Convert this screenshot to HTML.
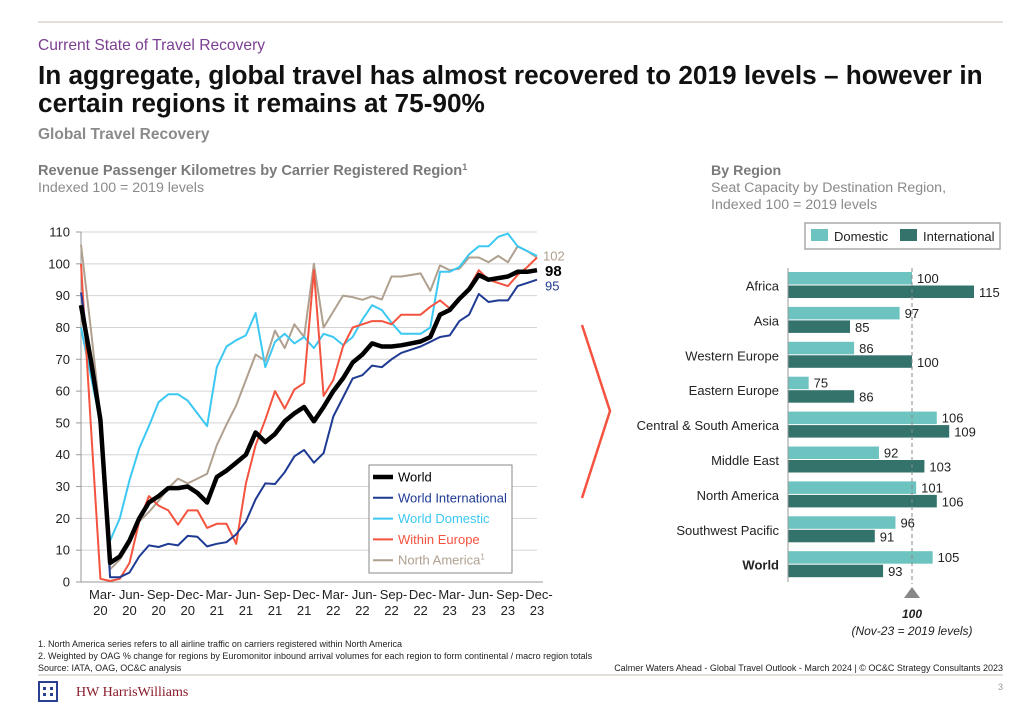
<!DOCTYPE html>
<html><head><meta charset="utf-8"><style>
html,body{margin:0;padding:0;background:#fff;}
svg{display:block;font-family:"Liberation Sans",Arial,sans-serif;}
</style></head><body>
<svg id="page" width="1024" height="709" viewBox="0 0 1024 709">
<line x1="38" y1="22" x2="1003" y2="22" stroke="#c9bfb3" stroke-width="1"/>
<text x="38" y="50" font-size="15.6" fill="#7b3f91">Current State of Travel Recovery</text>
<text x="38" y="84" font-size="26.2" font-weight="bold" fill="#111">In aggregate, global travel has almost recovered to 2019 levels – however in</text>
<text x="38" y="112" font-size="26.2" font-weight="bold" fill="#111">certain regions it remains at 75-90%</text>
<text x="38" y="139" font-size="15.5" font-weight="bold" fill="#8a8a8a">Global Travel Recovery</text>
<text x="38" y="175" font-size="14.6" font-weight="bold" fill="#7a7a7a">Revenue Passenger Kilometres by Carrier Registered Region<tspan font-size="9" dy="-5">1</tspan></text>
<text x="38" y="192" font-size="14.2" fill="#8a8a8a">Indexed 100 = 2019 levels</text>
<text x="711" y="175" font-size="14.2" font-weight="bold" fill="#7a7a7a">By Region</text>
<text x="711" y="192" font-size="14.2" fill="#8a8a8a">Seat Capacity by Destination Region,</text>
<text x="711" y="209" font-size="14.2" fill="#8a8a8a">Indexed 100 = 2019 levels</text>
<g id="line-chart"></g>
<polyline points="582,325 610,411 582,498" fill="none" stroke="#f4533f" stroke-width="2.5"/>
<g id="bar-chart"></g>
<text x="38" y="647" font-size="9" fill="#222">1. North America series refers to all airline traffic on carriers registered within North America</text>
<text x="38" y="659" font-size="9" fill="#222">2. Weighted by OAG % change for regions by Euromonitor inbound arrival volumes for each region to form continental / macro region totals</text>
<text x="38" y="671" font-size="9" fill="#222">Source: IATA, OAG, OC&amp;C analysis</text>
<text x="1003" y="671" font-size="9" fill="#222" text-anchor="end">Calmer Waters Ahead - Global Travel Outlook - March 2024  | © OC&amp;C Strategy Consultants 2023</text>
<line x1="38" y1="675" x2="1003" y2="675" stroke="#c9bfb3" stroke-width="1"/>
<g fill="#2a3f8f">
<rect x="38" y="681" width="20" height="2"/><rect x="38" y="700" width="20" height="2"/><rect x="38" y="681" width="2" height="21"/><rect x="56" y="681" width="2" height="21"/>
<rect x="43" y="687" width="3" height="3"/><rect x="50" y="687" width="3" height="3"/><rect x="43" y="693" width="3" height="3"/><rect x="50" y="693" width="3" height="3"/>
</g>
<text x="76" y="696" font-size="14" font-family="Liberation Serif,serif" fill="#8a1c2b">HW HarrisWilliams</text>
<text x="1003" y="690" font-size="9" fill="#999" text-anchor="end">3</text>
</svg>
<script>
const NS='http://www.w3.org/2000/svg';
function mk(tag,attrs,parent,txt){const e=document.createElementNS(NS,tag);for(const k in attrs)e.setAttribute(k,attrs[k]);if(txt!==undefined)e.textContent=txt;parent.appendChild(e);return e;}

// ---- line chart data ----
const months=['Jan-20','Feb-20','Mar-20','Apr-20','May-20','Jun-20','Jul-20','Aug-20','Sep-20','Oct-20','Nov-20','Dec-20','Jan-21','Feb-21','Mar-21','Apr-21','May-21','Jun-21','Jul-21','Aug-21','Sep-21','Oct-21','Nov-21','Dec-21','Jan-22','Feb-22','Mar-22','Apr-22','May-22','Jun-22','Jul-22','Aug-22','Sep-22','Oct-22','Nov-22','Dec-22','Jan-23','Feb-23','Mar-23','Apr-23','May-23','Jun-23','Jul-23','Aug-23','Sep-23','Oct-23','Nov-23','Dec-23'];
const world=[87,70,51,6,8,13,20,25,27,29.5,29.5,30,28,25,33,35,37.5,40,47,44,46.5,50.5,53,55,50.5,55,60,64,69,71.5,75,74,74,74.4,75,75.6,77,84,85.5,89,92,96.5,95,95.5,96,97.5,97.5,98];
const worldIntl=[91,70,48,1.5,1.5,3,8,11.5,11,12,11.5,14.5,14.2,11.2,12,12.5,15,19,26,31,30.8,34.5,39.5,41.5,37.5,40.5,52,58,64,65,68,67.5,70,72,73,74,75.5,77,77.5,82,84,90.5,88,88.5,88.5,93,94,95];
const worldDom=[80,65,50,13,20,32,42,49,56.5,59,59,57,53,49,67.5,74,76,77.5,84.5,67.5,75.5,78,75,77,73.5,78,77,74.5,77,82.5,87,85.5,81.5,78,78,78,80,97.5,97.5,99,103,105.5,105.5,108.5,109.5,105.5,104,102.5];
const withinEurope=[100,50,1,0.3,1,6,19,27,24,22.5,18,22.5,22.5,17,18.3,18.3,12,31,43,51,60,54.5,60.5,62.5,98,58.5,63.5,74,80,81,82,82,81,84,84,84,86.5,88.5,86,89.5,92.5,98,95,94,93,96.5,99,102];
const northAmerica=[106,80,52,4,7,12,19,22,25.5,29.5,32.5,31,32.5,34,43,49.5,55.5,63.5,71.5,69.5,79,73.5,81,77,100,80,85,90,89.5,88.7,89.8,88.8,96,96,96.5,97,91.5,99.5,98,98.5,102,102,100.5,102.5,100.5,105.5,104,102];
const yTicks=[0,10,20,30,40,50,60,70,80,90,100,110];
const xLabelIdx=[2,5,8,11,14,17,20,23,26,29,32,35,38,41,44,47];
const endLabels=['102','98','95'];

const lc=document.getElementById('line-chart');
const X=i=>81+i*(456/47);
const Y=v=>582-v*(350/110);
yTicks.forEach(t=>{
  if(t>0){const g=mk('line',{x1:81,x2:537,y1:Y(t),y2:Y(t),stroke:'#d4d4d4','stroke-width':1},lc);
  
  }
  const tk=mk('line',{x1:76,x2:81,y1:Y(t),y2:Y(t),stroke:'#999'},lc);
  
  
  const l=mk('text',{x:70,y:Y(t)+4.5,'font-size':13,'text-anchor':'end',fill:'#222'},lc,String(t));
  
  
});
const ax=mk('line',{x1:81,x2:81,y1:Y(110),y2:Y(0),stroke:'#999'},lc);


const xax=mk('line',{x1:81,x2:543,y1:Y(0),y2:Y(0),stroke:'#999'},lc);


xLabelIdx.forEach(i=>{
  const p=months[i].split('-');
  const t=mk('text',{x:X(i)+2,y:599,'font-size':13,'text-anchor':'middle',fill:'#222'},lc,p[0]+'-');
  
  
  const t2=mk('text',{x:X(i),y:615,'font-size':13,'text-anchor':'middle',fill:'#222'},lc,p[1]);
  
  
});
const series=[
  {d:northAmerica,c:'#b0a08f',w:2,n:'north-america-line'},
  {d:worldDom,c:'#3cc8f2',w:2,n:'world-domestic-line'},
  {d:withinEurope,c:'#f4533f',w:2,n:'within-europe-line'},
  {d:worldIntl,c:'#1f3a93',w:2,n:'world-international-line'},
  {d:world,c:'#000',w:4.5,n:'world-line'}];
series.forEach(s=>{
  const pts=s.d.map((v,i)=>X(i).toFixed(1)+','+Y(v).toFixed(1)).join(' ');
  const p=mk('polyline',{points:pts,fill:'none',stroke:s.c,'stroke-width':s.w,'stroke-linejoin':'round'},lc);
  
  
});
const e1=mk('text',{x:543,y:Y(northAmerica[47])+3,'font-size':13,fill:'#b0a08f'},lc,endLabels[0]);


const e2=mk('text',{x:545,y:Y(world[47])+6,'font-size':15,'font-weight':'bold',fill:'#000'},lc,endLabels[1]);


const e3=mk('text',{x:545,y:Y(worldIntl[47])+11,'font-size':13,fill:'#1f3a93'},lc,endLabels[2]);


// legend
const lg=mk('g',{},lc);


mk('rect',{x:369,y:465,width:143,height:108,fill:'#fff',stroke:'#888'},lg);
const legItems=[['World','#000',4.5,'#000'],['World International','#1f3a93',2,'#1f3a93'],['World Domestic','#3cc8f2',2,'#3cc8f2'],['Within Europe','#f4533f',2,'#f4533f'],['North America','#b0a08f',2,'#b0a08f']];
legItems.forEach((it,k)=>{
  const y=477+k*20.8;
  const g=mk('g',{},lg);
  
  
  mk('line',{x1:373,x2:393,y1:y,y2:y,stroke:it[1],'stroke-width':it[2]},g);
  const t=mk('text',{x:398,y:y+4.5,'font-size':13,fill:it[3]},g,it[0]);
  if(k===4){mk('tspan',{'font-size':8,dy:-5},t,'1');}
});

// ---- bar chart data ----
const regions=['Africa','Asia','Western Europe','Eastern Europe','Central & South America','Middle East','North America','Southwest Pacific','World'];
const domestic=[100,97,86,75,106,92,101,96,105];
const international=[115,85,100,86,109,103,106,91,93];
const bc=document.getElementById('bar-chart');
const BX=v=>788+(v-70)*(124/30);
const lgb=mk('g',{},bc);


mk('rect',{x:805,y:223,width:195,height:26,fill:'#fff',stroke:'#aaa','stroke-width':1.5},lgb);
mk('rect',{x:811,y:229,width:17,height:12,fill:'#6cc3c0'},lgb);
mk('text',{x:834,y:241,'font-size':13,fill:'#222'},lgb,'Domestic');
mk('rect',{x:900,y:229,width:17,height:12,fill:'#33736b'},lgb);
mk('text',{x:923,y:241,'font-size':13,fill:'#222'},lgb,'International');
regions.forEach((r,k)=>{
  const top=272+k*34.9;
  const g=mk('g',{},bc);
  
  
  const lab=mk('text',{x:779,y:top+18.5,'font-size':13,'text-anchor':'end',fill:'#222','font-weight':r==='World'?'bold':'normal'},g,r);
  
  
  const b1=mk('rect',{x:788,y:top,width:BX(domestic[k])-788,height:12.5,fill:'#6cc3c0'},g);
  
  
  const b2=mk('rect',{x:788,y:top+13.5,width:BX(international[k])-788,height:12.5,fill:'#33736b'},g);
  
  
  const v1=mk('text',{x:BX(domestic[k])+5,y:top+11,'font-size':13,fill:'#222'},g,String(domestic[k]));
  
  
  const v2=mk('text',{x:BX(international[k])+5,y:top+25,'font-size':13,fill:'#222'},g,String(international[k]));
  
  
});
const bax=mk('line',{x1:788,x2:788,y1:268,y2:582,stroke:'#999'},bc);


const ref=mk('line',{x1:BX(100),x2:BX(100),y1:268,y2:584,stroke:'#888','stroke-dasharray':'4,3'},bc);


const tri=mk('polygon',{points:`${BX(100)-8},598 ${BX(100)+8},598 ${BX(100)},587`,fill:'#888'},bc);


const r1=mk('text',{x:BX(100),y:618,'font-size':12,'font-weight':'bold','font-style':'italic','text-anchor':'middle',fill:'#222'},bc,'100');


const r2=mk('text',{x:BX(100),y:635,'font-size':12,'font-style':'italic','text-anchor':'middle',fill:'#222'},bc,'(Nov-23 = 2019 levels)');


</script>
</body></html>
